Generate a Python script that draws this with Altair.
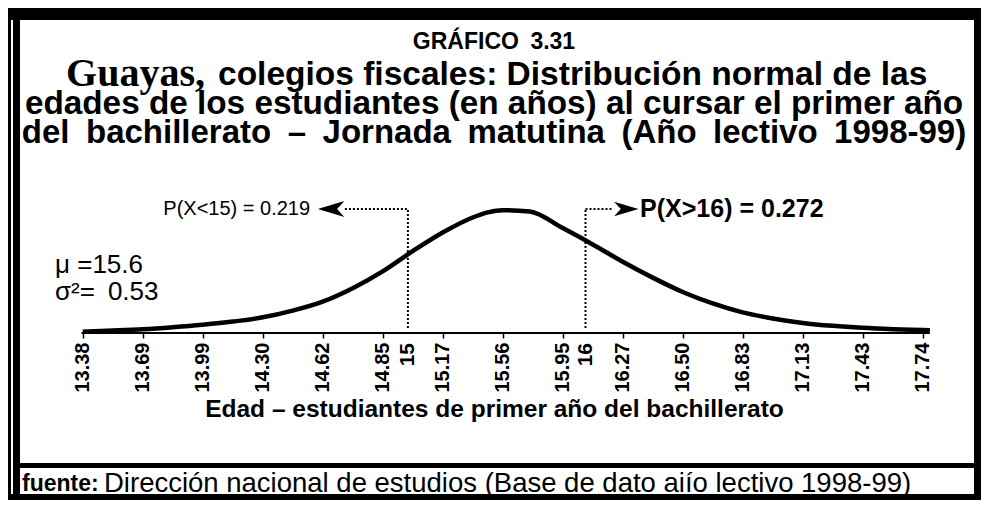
import altair as alt
import pandas as pd

# ---------------- data ----------------
tick_labels = ["13.38", "13.69", "13.99", "14.30", "14.62", "14.85", "15.17", "15.56",
               "15.95", "16.27", "16.50", "16.83", "17.13", "17.43", "17.74"]
tick_pos = list(range(len(tick_labels)))

# curve: position on the tick-index axis and density height
curve_pos = [0, 0.5, 1, 1.5, 2, 2.5, 3, 3.5, 4, 4.5, 5, 5.5, 6, 6.5, 6.75, 7, 7.45,
             8, 8.5, 9, 9.5, 10, 10.5, 11, 11.5, 12, 12.5, 13, 13.5, 14, 14.12]
curve_dens = [0.006, 0.011, 0.017, 0.026, 0.037, 0.051, 0.070, 0.100, 0.140, 0.200,
              0.275, 0.365, 0.448, 0.515, 0.538, 0.548, 0.542, 0.468, 0.395, 0.318,
              0.247, 0.183, 0.132, 0.092, 0.065, 0.045, 0.032, 0.023, 0.017, 0.013, 0.012]

cut_labels = ["15", "16"]
cut_pos = [5.42, 8.38]
prob_texts = ["P(X<15) = 0.219", "P(X>16) = 0.272"]
arrow_pos = [4.14, 9.06]
arrow_tail = [4.37, 8.84]
text_pos = [3.79, 9.29]
ann_level = 0.553
dotted_bottom = 0.022

SP = "\u2002"
param_texts = ["\u03bc =15.6", "\u03c3\u00b2=" + SP + "0.53"]

title_1 = "GR\u00c1FICO" + SP + "3.31"
title_2a = "Guayas,"
title_2b = "colegios fiscales: Distribuci\u00f3n normal de las"
title_3 = "edades de los estudiantes (en a\u00f1os) al cursar el primer a\u00f1o"
title_4 = SP.join(["del", "bachillerato", "\u2013", "Jornada", "matutina", "(A\u00f1o", "lectivo", "1998-99)"])
x_title = "Edad \u2013 estudiantes de primer a\u00f1o del bachillerato"
source_a = "fuente:"
source_b = "Direcci\u00f3n nacional de estudios (Base de dato ai\u00edo lectivo 1998-99)"

# ---------------- layout ----------------
W, H = 973, 492
PX = 0.00446           # density units per pixel
BASE = 325             # plot height: zero line sits at the bottom of the plot area
x_dom = [-74.7 / 60, (W - 74.7) / 60]
y_dom = [0, BASE * PX]
SANS = "Liberation Sans"
SERIF = "Liberation Serif"
CX = 486               # horizontal centre of the title block

xs = alt.Scale(domain=x_dom, nice=False, zero=False)
ys = alt.Scale(domain=y_dom, nice=False, zero=False)

one = pd.DataFrame({"k": [0]})

label_expr = "[" + ",".join("'" + t + "'" for t in tick_labels) + "][datum.value]"

x_axis = alt.Axis(
    values=tick_pos, labelExpr=label_expr, labelAngle=270, labelFont=SANS,
    labelFontWeight="bold", labelFontSize=20, labelColor="black", labelPadding=4,
    labelOverlap=False, labelFlush=False, tickSize=5, tickColor="black", tickWidth=1.5,
    domain=False, grid=False, title=x_title, titleFont=SANS, titleX=CX, titleAnchor="middle",
    titleAlign="center", titleFontSize=24.5, titleFontWeight="bold", titleColor="black",
    titlePadding=5)

X = alt.X("pos:Q", scale=xs, axis=x_axis)
Y = alt.Y("dens:Q", scale=ys, axis=None)

curve_df = pd.DataFrame({"pos": curve_pos, "dens": curve_dens})
curve = alt.Chart(curve_df).mark_line(color="black", strokeWidth=4.5, interpolate="monotone").encode(
    x=X, y=Y)

base_df = pd.DataFrame({"pos": [tick_pos[0] - 0.02], "pos2": [curve_pos[-1]], "dens": [0.0]})
baseline = alt.Chart(base_df).mark_rule(color="black", strokeWidth=2).encode(
    x=X, x2="pos2:Q", y=Y)

seg_df = pd.DataFrame({
    "pos": [cut_pos[0], arrow_tail[0], cut_pos[1], cut_pos[1]],
    "pos2": [cut_pos[0], cut_pos[0], cut_pos[1], arrow_tail[1]],
    "dens": [dotted_bottom, ann_level, dotted_bottom, ann_level],
    "dens2": [ann_level, ann_level, ann_level, ann_level],
})
dotted = alt.Chart(seg_df).mark_rule(color="black", strokeWidth=2, strokeDash=[2, 2]).encode(
    x=X, x2="pos2:Q", y=Y, y2="dens2:Q")

left_head = alt.Chart(pd.DataFrame({"pos": [arrow_pos[0]], "dens": [ann_level]})).mark_point(
    shape="M-1,0 L1,-0.6 L0.45,0 L1,0.6 Z", filled=True, color="black", opacity=1, size=700
).encode(x=X, y=Y)
right_head = alt.Chart(pd.DataFrame({"pos": [arrow_pos[1]], "dens": [ann_level]})).mark_point(
    shape="M1,0 L-1,-0.6 L-0.45,0 L-1,0.6 Z", filled=True, color="black", opacity=1, size=600
).encode(x=X, y=Y)

ptxt_l = alt.Chart(pd.DataFrame({"pos": [text_pos[0]], "dens": [ann_level], "t": [prob_texts[0]]})).mark_text(
    align="right", baseline="middle", font=SANS, fontSize=20, color="black"
).encode(x=X, y=Y, text="t:N")
ptxt_r = alt.Chart(pd.DataFrame({"pos": [text_pos[1]], "dens": [ann_level], "t": [prob_texts[1]]})).mark_text(
    align="left", baseline="middle", font=SANS, fontSize=25, fontWeight="bold", color="black"
).encode(x=X, y=Y, text="t:N")

cut_df = pd.DataFrame({"pos": cut_pos, "dens": [0.0, 0.0], "t": cut_labels})
cut_txt = alt.Chart(cut_df).mark_text(
    align="right", baseline="middle", angle=270, font=SANS, fontSize=21, fontWeight="bold",
    color="black", yOffset=10
).encode(x=X, y=Y, text="t:N")


def txt(s, x, y, size, weight="bold", font=SANS, align="center"):
    return alt.Chart(one).mark_text(
        text=s, align=align, baseline="middle", font=font, fontSize=size,
        fontWeight=weight, color="black"
    ).encode(x=alt.value(x), y=alt.value(y))


def box(x, x2, y, y2):
    return alt.Chart(one).mark_rect(color="black").encode(
        x=alt.value(x), x2=alt.value(x2), y=alt.value(y), y2=alt.value(y2))


frame = [
    box(0, W, 0, 12),          # top band
    box(0, 3, 0, H),           # thin left line
    box(5, 12, 0, H),          # thick left line
    box(W - 7, W, 0, H),       # right line
    box(5, W, 455, 460),       # separator above source
    box(0, W, H - 6, H),       # bottom band
]

texts = [
    txt(title_1, CX, 34, 23),
    txt(title_2a, 197, 66, 40, font=SERIF, align="right"),
    txt(title_2b, 210, 67, 33.5, align="left"),
    txt(title_3, CX, 96, 33.3),
    txt(title_4, CX, 125, 33),
    txt(param_texts[0], 47, 257, 26, weight="normal", align="left"),
    txt(param_texts[1], 47, 284, 26, weight="normal", align="left"),
    txt(source_a, 14, 476, 23, align="left"),
    txt(source_b, 96, 476, 27.5, weight="normal", align="left"),
]

chart = alt.layer(
    curve, baseline, dotted, left_head, right_head, ptxt_l, ptxt_r, cut_txt, *frame, *texts
).properties(
    width=W, height=BASE, padding={"left": 0, "top": 0, "right": 0, "bottom": H - BASE},
    autosize="none", background="white"
).configure_view(stroke=None)

chart.save("out.html", embed_options={"renderer": "svg", "actions": False})
